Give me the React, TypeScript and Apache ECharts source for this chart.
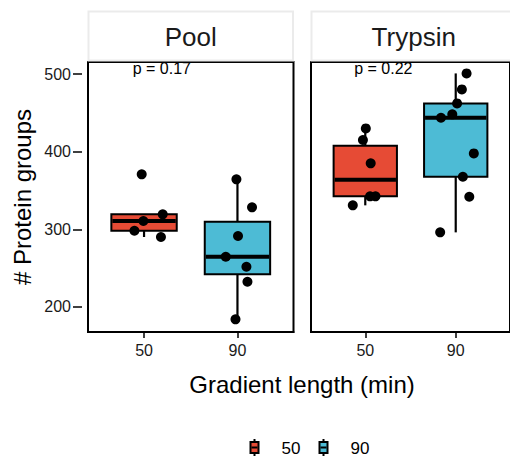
import React, { useEffect, useRef } from "react";
import * as echarts from "echarts";

const panels = ["Pool", "Trypsin"];
const categories = ["50", "90"];
const colors = ["#E64B35", "#4DBBD5"];
const yTicks = [200, 300, 400, 500];
const pLabels = ["p = 0.17", "p = 0.22"];
const yTitle = "# Protein groups";
const xTitle = "Gradient length (min)";

// jittered points: [horizontal jitter (category units), value]
const pool50 = [[-0.025, 370.8], [0.2, 319.3], [-0.007, 310.7], [-0.103, 298.2], [0.181, 290.1]];
const pool90 = [[-0.011, 364.4], [0.156, 328.3], [0.006, 291.4], [-0.125, 264.7], [0.096, 251.8], [0.107, 232.5], [-0.021, 184.1]];
const trypsin50 = [[0.006, 430], [-0.026, 415], [0.06, 385], [0.053, 342.5], [0.113, 342.5], [-0.138, 330.9]];
const trypsin90 = [[0.12, 500.8], [0.068, 480.2], [0.015, 462.2], [-0.038, 448.1], [-0.163, 443.7], [0.2, 397.8], [0.079, 367.7], [0.15, 342], [-0.172, 296.1]];

const groups = [
  [pool50, pool90],
  [trypsin50, trypsin90],
];

const FONT = "'Liberation Sans', Arial, Helvetica, sans-serif";
const HW = 0.35;

function quantile(sorted: number[], p: number) {
  const h = (sorted.length - 1) * p;
  const lo = Math.floor(h);
  const hi = Math.ceil(h);
  return sorted[lo] + (sorted[hi] - sorted[lo]) * (h - lo);
}

function boxStats(pts: number[][]) {
  const v = pts.map((p) => p[1]).sort((a, b) => a - b);
  const q1 = quantile(v, 0.25);
  const med = quantile(v, 0.5);
  const q3 = quantile(v, 0.75);
  const iqr = q3 - q1;
  const inside = v.filter((x) => x >= q1 - 1.5 * iqr && x <= q3 + 1.5 * iqr);
  return [Math.min(...inside), q1, med, q3, Math.max(...inside)];
}

const GRID_LEFT = [88, 311];
const GRID_W = 205.5;
const GRID_TOP = 62;
const GRID_H = 270;

export default function App() {
  const ref = useRef<HTMLDivElement>(null);
  useEffect(() => {
    if (!ref.current) return;
    const chart = echarts.init(ref.current, null, { renderer: "svg" });

    const grids: any[] = [];
    const xAxes: any[] = [];
    const yAxes: any[] = [];
    const series: any[] = [];
    const graphics: any[] = [];

    panels.forEach((name, pi) => {
      grids.push({
        left: GRID_LEFT[pi],
        top: GRID_TOP,
        width: GRID_W,
        height: GRID_H,
        show: true,
        borderColor: "#000",
        borderWidth: 2,
        backgroundColor: "#fff",
      });
      xAxes.push({
        gridIndex: pi,
        type: "value",
        min: 0.4,
        max: 2.6,
        splitLine: { show: false },
        axisLine: { show: true, onZero: false, lineStyle: { color: "#000", width: 2 } },
        axisTick: { show: true, customValues: [1, 2], length: 6, lineStyle: { color: "#000", width: 1.5 } },
        axisLabel: {
          show: true,
          customValues: [1, 2],
          formatter: (v: number) => categories[Math.round(v) - 1] ?? "",
          fontSize: 16,
          fontFamily: FONT,
          color: "#1a1a1a",
          margin: 10,
        },
      });
      yAxes.push({
        gridIndex: pi,
        type: "value",
        min: 167.8,
        max: 515.5,
        show: pi === 0,
        offset: 6,
        splitLine: { show: false },
        axisLine: { show: false },
        axisTick: { show: true, customValues: yTicks, length: 9, lineStyle: { color: "#000", width: 1.5 } },
        axisLabel: {
          show: true,
          customValues: yTicks,
          fontSize: 16,
          fontFamily: FONT,
          color: "#1a1a1a",
          margin: 11,
        },
      });

      const boxData = groups[pi].map((pts, ci) => [ci + 1, ...boxStats(pts), ci]);
      series.push({
        type: "custom",
        xAxisIndex: pi,
        yAxisIndex: pi,
        data: boxData,
        encode: { x: 0, y: [1, 2, 3, 4, 5] },
        renderItem: (_params: any, api: any) => {
          const x = api.value(0);
          const lo = api.value(1);
          const q1 = api.value(2);
          const med = api.value(3);
          const q3 = api.value(4);
          const hi = api.value(5);
          const ci = api.value(6);
          const pLo = api.coord([x, lo]);
          const pHi = api.coord([x, hi]);
          const pQ1 = api.coord([x, q1]);
          const pQ3 = api.coord([x, q3]);
          const tl = api.coord([x - HW, q3]);
          const br = api.coord([x + HW, q1]);
          const mL = api.coord([x - HW, med]);
          const mR = api.coord([x + HW, med]);
          return {
            type: "group",
            children: [
              { type: "line", shape: { x1: pLo[0], y1: pLo[1], x2: pQ1[0], y2: pQ1[1] }, style: { stroke: "#000", lineWidth: 2.2 } },
              { type: "line", shape: { x1: pQ3[0], y1: pQ3[1], x2: pHi[0], y2: pHi[1] }, style: { stroke: "#000", lineWidth: 2.2 } },
              { type: "rect", shape: { x: tl[0], y: tl[1], width: br[0] - tl[0], height: br[1] - tl[1] }, style: { fill: colors[ci], stroke: "#000", lineWidth: 2 } },
              { type: "line", shape: { x1: mL[0] + 1, y1: mL[1], x2: mR[0] - 1, y2: mR[1] }, style: { stroke: "#000", lineWidth: 4 } },
            ],
          };
        },
        z: 2,
      });

      const pts: number[][] = [];
      groups[pi].forEach((g, ci) => g.forEach((p) => pts.push([ci + 1 + p[0], p[1]])));
      series.push({
        type: "scatter",
        xAxisIndex: pi,
        yAxisIndex: pi,
        data: pts,
        symbol: "circle",
        symbolSize: 10,
        itemStyle: { color: "#000", opacity: 1 },
        z: 3,
      });

      series.push({
        type: "custom",
        xAxisIndex: pi,
        yAxisIndex: pi,
        data: [[0.878, 506.5]],
        encode: { x: 0, y: 1 },
        renderItem: (_params: any, api: any) => {
          const p = api.coord([api.value(0), api.value(1)]);
          return {
            type: "text",
            x: p[0],
            y: p[1],
            style: {
              text: pLabels[pi],
              fontSize: 16,
              fontFamily: FONT,
              fill: "#000",
              align: "left",
              verticalAlign: "middle",
            },
          };
        },
        z: 4,
      });

      // strip
      graphics.push({
        type: "rect",
        shape: { x: GRID_LEFT[pi] + 0.5, y: 11.5, width: GRID_W - 1, height: 49 },
        style: { fill: "#fff", stroke: "#ebebeb", lineWidth: 2 },
      });
      graphics.push({
        type: "text",
        x: GRID_LEFT[pi] + GRID_W / 2,
        y: 37,
        style: { text: name, fontSize: 26, fontFamily: FONT, fill: "#1a1a1a", align: "center", verticalAlign: "middle" },
      });
    });

    graphics.push({
      type: "text",
      x: 22,
      y: 197,
      rotation: Math.PI / 2,
      style: { text: yTitle, fontSize: 24, fontFamily: FONT, fill: "#000", align: "center", verticalAlign: "middle" },
    });
    graphics.push({
      type: "text",
      x: 302,
      y: 384,
      style: { text: xTitle, fontSize: 24, fontFamily: FONT, fill: "#000", align: "center", verticalAlign: "middle" },
    });

    // legend
    const legendX = [254.5, 323.5];
    categories.forEach((c, i) => {
      const cx = legendX[i];
      graphics.push({ type: "line", shape: { x1: cx, y1: 439, x2: cx, y2: 456 }, style: { stroke: "#000", lineWidth: 2 } });
      graphics.push({ type: "rect", shape: { x: cx - 4, y: 442, width: 8, height: 11 }, style: { fill: colors[i], stroke: "#000", lineWidth: 2 } });
      graphics.push({ type: "line", shape: { x1: cx - 3, y1: 447.5, x2: cx + 3, y2: 447.5 }, style: { stroke: "#000", lineWidth: 2 } });
      graphics.push({
        type: "text",
        x: cx + 27,
        y: 448,
        style: { text: c, fontSize: 17, fontFamily: FONT, fill: "#000", align: "left", verticalAlign: "middle" },
      });
    });

    chart.setOption({
      animation: false,
      backgroundColor: "#fff",
      grid: grids,
      xAxis: xAxes,
      yAxis: yAxes,
      series,
      graphic: graphics,
    });
    return () => chart.dispose();
  }, []);
  return <div ref={ref} style={{ position: "fixed", left: 0, top: 0, width: 510, height: 458 }} />;
}
